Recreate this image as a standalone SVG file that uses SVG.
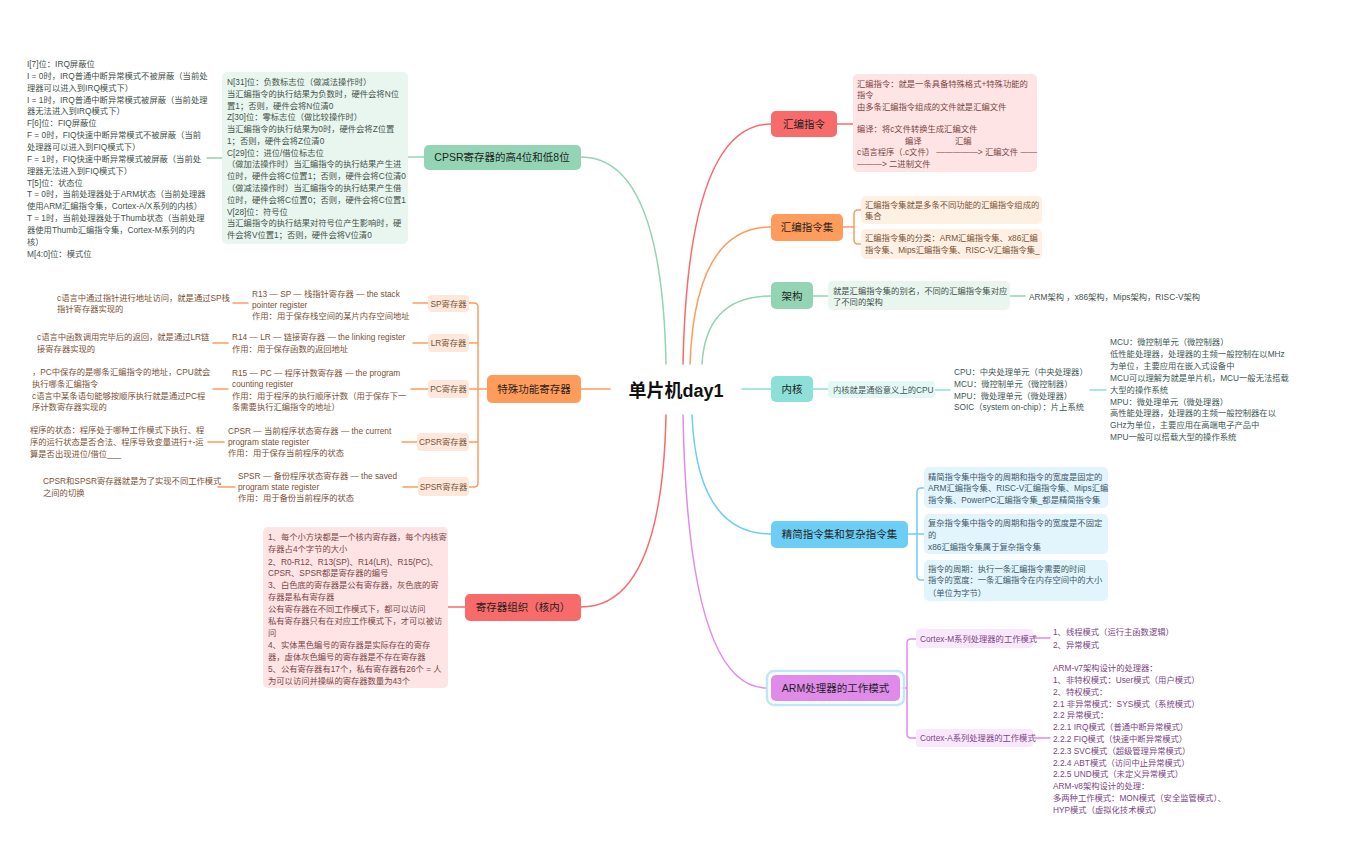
<svg xmlns="http://www.w3.org/2000/svg" width="1366" height="859" viewBox="0 0 1366 859">
<style>
text{font-family:"Liberation Sans","Noto Sans CJK SC",sans-serif;}
.d{font-size:8.3px;}
.n{font-size:10.5px;fill:#1f1f1f;text-anchor:middle;}
.s{font-size:8.3px;text-anchor:middle;}
.c{fill:none;stroke-width:1.5;stroke-linecap:round;}
.red{stroke:#f76b6b}.org{stroke:#ff9c5c}.grn{stroke:#93d4b4}.tea{stroke:#8de0d8}.blu{stroke:#6ccdf5}.pur{stroke:#e08bea}
.tr{fill:#7b4646}.to{fill:#7a5236}.tg{fill:#44524b}.tt{fill:#3e5856}.tb{fill:#3d5a6a}.tp{fill:#7a4585}
</style>
<rect width="1366" height="859" fill="#ffffff"/>

<g id="connectors">
<path class="c grn" d="M666,364 Q662,157 581,157"/>
<path class="c org" d="M610,389 L581,389"/>
<path class="c red" d="M666,415 Q662,607 581,607"/>
<path class="c red" d="M683,364 Q688,124 771,124"/>
<path class="c org" d="M690,364 Q695,227 771,227"/>
<path class="c grn" d="M702,364 Q706,296 771,296"/>
<path class="c tea" d="M742,389 L771,389"/>
<path class="c blu" d="M692,415 Q697,534 771,534"/>
<path class="c pur" d="M683,415 Q688,688 767,688"/>

<path class="c red" d="M837,124 L853,124"/>
<path class="c org" d="M843,227 L854,227 M861,210 L858,210 Q854,210 854,214 L854,240 Q854,244 858,244 L861,244"/>
<path class="c grn" d="M813,296 L828,296 M1010,296 L1025,296"/>
<path class="c tea" d="M813,389 L828,389 M935,390 L950,390 M1090,390 L1106,390"/>
<path class="c blu" d="M908,534 L924,534 M924,488 L921,488 Q917,488 917,492 L917,576 Q917,580 921,580 L924,580"/>
<path class="c pur" d="M903,688 L907,688 M916,639 L911,639 Q907,639 907,643 L907,734 Q907,738 911,738 L916,738 M1033,638 L1050,638 M1033,738 L1050,738"/>
<path class="c grn" d="M424,157 L408,157 M222,158 L207,158"/>
<path class="c org" d="M487,389 L469,389 M469,303 L474,303 Q478,303 478,307 L478,483 Q478,487 474,487 L469,487 M478,343 L469,343 M478,442 L469,442"/>
<path class="c org" d="M428,303 L413,303 M248,303 L233,303 M428,343 L413,343 M228,343 L213,343 M428,389 L411,389 M228,389 L213,389 M417,442 L402,442 M224,442 L208,442 M418,487 L403,487 M235,487 L218,487"/>
<path class="c red" d="M465,607 L448,607"/>
</g>

<g id="center">
<text x="676" y="397" text-anchor="middle" font-size="18" font-weight="bold" fill="#111">单片机day1</text>
</g>

<g id="node-cpsr">
<rect x="424" y="145" width="157" height="25" rx="5" fill="#93d4b4"/>
<text class="n" x="502" y="161">CPSR寄存器的高4位和低8位</text>
<rect x="222" y="72" width="186" height="172" rx="5" fill="#e9f6ef"/>
<text class="d tg">
<tspan x="227" y="85">N[31]位：负数标志位（做减法操作时）</tspan>
<tspan x="227" y="96.8">当汇编指令的执行结果为负数时，硬件会将N位</tspan>
<tspan x="227" y="108.5">置1；否则，硬件会将N位清0</tspan>
<tspan x="227" y="120.3">Z[30]位：零标志位（做比较操作时）</tspan>
<tspan x="227" y="132.1">当汇编指令的执行结果为0时，硬件会将Z位置</tspan>
<tspan x="227" y="143.9">1；否则，硬件会将Z位清0</tspan>
<tspan x="227" y="155.6">C[29]位：进位/借位标志位</tspan>
<tspan x="227" y="167.4">（做加法操作时）当汇编指令的执行结果产生进</tspan>
<tspan x="227" y="179.2">位时，硬件会将C位置1；否则，硬件会将C位清0</tspan>
<tspan x="227" y="190.9">（做减法操作时）当汇编指令的执行结果产生借</tspan>
<tspan x="227" y="202.7">位时，硬件会将C位置0；否则，硬件会将C位置1</tspan>
<tspan x="227" y="214.5">V[28]位：符号位</tspan>
<tspan x="227" y="226.2">当汇编指令的执行结果对符号位产生影响时，硬</tspan>
<tspan x="227" y="238">件会将V位置1；否则，硬件会将V位清0</tspan>
</text>
<text class="d tg">
<tspan x="27" y="67">I[7]位：IRQ屏蔽位</tspan>
<tspan x="27" y="78.9">I = 0时，IRQ普通中断异常模式不被屏蔽（当前处</tspan>
<tspan x="27" y="90.7">理器可以进入到IRQ模式下）</tspan>
<tspan x="27" y="102.6">I = 1时，IRQ普通中断异常模式被屏蔽（当前处理</tspan>
<tspan x="27" y="114.4">器无法进入到IRQ模式下）</tspan>
<tspan x="27" y="126.3">F[6]位：FIQ屏蔽位</tspan>
<tspan x="27" y="138.1">F = 0时，FIQ快速中断异常模式不被屏蔽（当前</tspan>
<tspan x="27" y="150">处理器可以进入到FIQ模式下）</tspan>
<tspan x="27" y="161.8">F = 1时，FIQ快速中断异常模式被屏蔽（当前处</tspan>
<tspan x="27" y="173.7">理器无法进入到FIQ模式下）</tspan>
<tspan x="27" y="185.5">T[5]位：状态位</tspan>
<tspan x="27" y="197.4">T = 0时，当前处理器处于ARM状态（当前处理器</tspan>
<tspan x="27" y="209.2">使用ARM汇编指令集，Cortex-A/X系列的内核）</tspan>
<tspan x="27" y="221.1">T = 1时，当前处理器处于Thumb状态（当前处理</tspan>
<tspan x="27" y="232.9">器使用Thumb汇编指令集，Cortex-M系列的内</tspan>
<tspan x="27" y="244.8">核）</tspan>
<tspan x="27" y="256.6">M[4:0]位：模式位</tspan>
</text>
</g>

<g id="node-special">
<rect x="487" y="375" width="94" height="28" rx="5" fill="#ff9c5c"/>
<text class="n" x="534" y="393">特殊功能寄存器</text>
</g>

<g id="node-sp">
<rect x="428" y="295" width="41" height="17" rx="4" fill="#fde8db"/>
<text class="s to" x="448.5" y="306.5">SP寄存器</text>
<text class="d to"><tspan x="252" y="297">R13 — SP — 栈指针寄存器 — the stack</tspan><tspan x="252" y="308">pointer register</tspan><tspan x="252" y="319">作用：用于保存栈空间的某片内存空间地址</tspan></text>
<text class="d to"><tspan x="57" y="301">c语言中通过指针进行地址访问，就是通过SP栈</tspan><tspan x="57" y="312">指针寄存器实现的</tspan></text>
</g>

<g id="node-lr">
<rect x="428" y="334" width="41" height="18" rx="4" fill="#fde8db"/>
<text class="s to" x="448.5" y="346">LR寄存器</text>
<text class="d to"><tspan x="232" y="340">R14 — LR — 链接寄存器 — the linking register</tspan><tspan x="232" y="352">作用：用于保存函数的返回地址</tspan></text>
<text class="d to"><tspan x="37" y="340">c语言中函数调用完毕后的返回，就是通过LR链</tspan><tspan x="37" y="352">接寄存器实现的</tspan></text>
</g>

<g id="node-pc">
<rect x="428" y="380" width="41" height="18" rx="4" fill="#fde8db"/>
<text class="s to" x="448.5" y="392">PC寄存器</text>
<text class="d to"><tspan x="232" y="376">R15 — PC — 程序计数寄存器 — the program</tspan><tspan x="232" y="387">counting register</tspan><tspan x="232" y="399">作用：用于程序的执行顺序计数（用于保存下一</tspan><tspan x="232" y="410">条需要执行汇编指令的地址）</tspan></text>
<text class="d to"><tspan x="32" y="375">，PC中保存的是哪条汇编指令的地址，CPU就会</tspan><tspan x="32" y="387">执行哪条汇编指令</tspan><tspan x="32" y="399">c语言中某条语句能够按顺序执行就是通过PC程</tspan><tspan x="32" y="410">序计数寄存器实现的</tspan></text>
</g>

<g id="node-cpsr-reg">
<rect x="417" y="433" width="52" height="18" rx="4" fill="#fde8db"/>
<text class="s to" x="443" y="445">CPSR寄存器</text>
<text class="d to"><tspan x="228" y="434">CPSR — 当前程序状态寄存器 — the current</tspan><tspan x="228" y="445">program state register</tspan><tspan x="228" y="456">作用：用于保存当前程序的状态</tspan></text>
<text class="d to"><tspan x="30" y="433">程序的状态：程序处于哪种工作模式下执行、程</tspan><tspan x="30" y="445">序的运行状态是否合法、程序导致变量进行+-运</tspan><tspan x="30" y="457">算是否出现进位/借位___</tspan></text>
</g>

<g id="node-spsr">
<rect x="418" y="477" width="51" height="19" rx="4" fill="#fde8db"/>
<text class="s to" x="443.5" y="490">SPSR寄存器</text>
<text class="d to"><tspan x="238" y="479">SPSR — 备份程序状态寄存器 — the saved</tspan><tspan x="238" y="490">program state register</tspan><tspan x="238" y="501">作用：用于备份当前程序的状态</tspan></text>
<text class="d to"><tspan x="43" y="484">CPSR和SPSR寄存器就是为了实现不同工作模式</tspan><tspan x="43" y="496">之间的切换</tspan></text>
</g>

<g id="node-regorg">
<rect x="465" y="594" width="116" height="27" rx="5" fill="#f76b6b"/>
<text class="n" x="523" y="611">寄存器组织（核内）</text>
<rect x="263" y="527" width="185" height="161" rx="5" fill="#fee4e4"/>
<text class="d tr">
<tspan x="268" y="540">1、每个小方块都是一个核内寄存器，每个内核寄</tspan>
<tspan x="268" y="552">存器占4个字节的大小</tspan>
<tspan x="268" y="564.5">2、R0-R12、R13(SP)、R14(LR)、R15(PC)、</tspan>
<tspan x="268" y="576">CPSR、SPSR都是寄存器的编号</tspan>
<tspan x="268" y="588">3、白色底的寄存器是公有寄存器，灰色底的寄</tspan>
<tspan x="268" y="600">存器是私有寄存器</tspan>
<tspan x="268" y="612">公有寄存器在不同工作模式下，都可以访问</tspan>
<tspan x="268" y="623.5">私有寄存器只有在对应工作模式下，才可以被访</tspan>
<tspan x="268" y="636">问</tspan>
<tspan x="268" y="647.5">4、实体黑色编号的寄存器是实际存在的寄存</tspan>
<tspan x="268" y="660">器，虚体灰色编号的寄存器是不存在寄存器</tspan>
<tspan x="268" y="672">5、公有寄存器有17个，私有寄存器有26个 = 人</tspan>
<tspan x="268" y="684">为可以访问并操纵的寄存器数量为43个</tspan>
</text>
</g>

<g id="node-asm">
<rect x="771" y="111" width="66" height="26" rx="5" fill="#f76b6b"/>
<text class="n" x="804" y="128">汇编指令</text>
<rect x="853" y="74" width="184" height="98" rx="5" fill="#fee4e4"/>
<text class="d tr">
<tspan x="857" y="87">汇编指令：就是一条具备特殊格式+特殊功能的</tspan>
<tspan x="857" y="98">指令</tspan>
<tspan x="857" y="110">由多条汇编指令组成的文件就是汇编文件</tspan>
<tspan x="857" y="132">编译：将c文件转换生成汇编文件</tspan>
<tspan x="905" y="144">编译</tspan>
<tspan x="955" y="144">汇编</tspan>
<tspan x="857" y="155">c语言程序（.c文件） —————&gt; 汇编文件 ——</tspan>
<tspan x="857" y="167">———&gt; 二进制文件</tspan>
</text>
</g>

<g id="node-asmset">
<rect x="771" y="214" width="72" height="27" rx="5" fill="#ff9c5c"/>
<text class="n" x="807" y="231">汇编指令集</text>
<rect x="861" y="196" width="181" height="28" rx="5" fill="#fef0e3"/>
<text class="d to"><tspan x="865" y="208">汇编指令集就是多条不同功能的汇编指令组成的</tspan><tspan x="865" y="219">集合</tspan></text>
<rect x="861" y="229" width="181" height="30" rx="5" fill="#fef0e3"/>
<text class="d to"><tspan x="865" y="241">汇编指令集的分类：ARM汇编指令集、x86汇编</tspan><tspan x="865" y="253">指令集、Mips汇编指令集、RISC-V汇编指令集_</tspan></text>
</g>

<g id="node-arch">
<rect x="771" y="282" width="42" height="27" rx="5" fill="#93d4b4"/>
<text class="n" x="792" y="299.5">架构</text>
<rect x="828" y="281" width="182" height="29" rx="5" fill="#e9f6ef"/>
<text class="d tg"><tspan x="833" y="294">就是汇编指令集的别名，不同的汇编指令集对应</tspan><tspan x="833" y="305">了不同的架构</tspan></text>
<text class="d tg" x="1029" y="300">ARM架构 ，x86架构，Mips架构，RISC-V架构</text>
</g>

<g id="node-core">
<rect x="771" y="376" width="42" height="26" rx="5" fill="#8de0d8"/>
<text class="n" x="792" y="393">内核</text>
<rect x="828" y="381" width="107" height="17" rx="4" fill="#e5f7f5"/>
<text class="d tt" x="833" y="393">内核就是通俗意义上的CPU</text>
<text class="d tt"><tspan x="954" y="375">CPU：中央处理单元（中央处理器）</tspan><tspan x="954" y="387">MCU：微控制单元（微控制器）</tspan><tspan x="954" y="399">MPU：微处理单元（微处理器）</tspan><tspan x="954" y="410">SOIC（system on-chip）：片上系统</tspan></text>
<text class="d tt">
<tspan x="1110" y="345">MCU：微控制单元（微控制器）</tspan>
<tspan x="1110" y="357">低性能处理器，处理器的主频一般控制在以MHz</tspan>
<tspan x="1110" y="368.5">为单位，主要应用在嵌入式设备中</tspan>
<tspan x="1110" y="380.5">MCU可以理解为就是单片机，MCU一般无法搭载</tspan>
<tspan x="1110" y="393">大型的操作系统</tspan>
<tspan x="1110" y="404.5">MPU：微处理单元（微处理器）</tspan>
<tspan x="1110" y="416">高性能处理器，处理器的主频一般控制器在以</tspan>
<tspan x="1110" y="428">GHz为单位，主要应用在高端电子产品中</tspan>
<tspan x="1110" y="440">MPU一般可以搭载大型的操作系统</tspan>
</text>
</g>

<g id="node-risc">
<rect x="771" y="521" width="137" height="27" rx="5" fill="#6ccdf5"/>
<text class="n" x="839.5" y="538">精简指令集和复杂指令集</text>
<rect x="924" y="467" width="184" height="41" rx="5" fill="#e2f4fc"/>
<text class="d tb"><tspan x="928" y="480">精简指令集中指令的周期和指令的宽度是固定的</tspan><tspan x="928" y="491">ARM汇编指令集、RISC-V汇编指令集、Mips汇编</tspan><tspan x="928" y="503">指令集、PowerPC汇编指令集_都是精简指令集</tspan></text>
<rect x="924" y="514" width="184" height="40" rx="5" fill="#e2f4fc"/>
<text class="d tb"><tspan x="928" y="526">复杂指令集中指令的周期和指令的宽度是不固定</tspan><tspan x="928" y="538">的</tspan><tspan x="928" y="550">x86汇编指令集属于复杂指令集</tspan></text>
<rect x="924" y="560" width="184" height="41" rx="5" fill="#e2f4fc"/>
<text class="d tb"><tspan x="928" y="572">指令的周期：执行一条汇编指令需要的时间</tspan><tspan x="928" y="583">指令的宽度：一条汇编指令在内存空间中的大小</tspan><tspan x="928" y="596">（单位为字节）</tspan></text>
</g>

<g id="node-arm">
<rect x="767" y="671" width="137" height="34" rx="7" fill="none" stroke="#bfe6fa" stroke-width="2.5"/>
<rect x="771" y="675" width="129" height="26" rx="5" fill="#e08bea"/>
<text class="n" x="835.5" y="692">ARM处理器的工作模式</text>
<rect x="916" y="629" width="117" height="19" rx="4" fill="#f9e8fb"/>
<text class="d tp" x="920" y="642">Cortex-M系列处理器的工作模式</text>
<text class="d tp"><tspan x="1053" y="635">1、线程模式（运行主函数逻辑）</tspan><tspan x="1053" y="648">2、异常模式</tspan></text>
<rect x="916" y="729" width="117" height="18" rx="4" fill="#f9e8fb"/>
<text class="d tp" x="920" y="741">Cortex-A系列处理器的工作模式</text>
<text class="d tp">
<tspan x="1053" y="671">ARM-v7架构设计的处理器：</tspan>
<tspan x="1053" y="682.5">1、非特权模式：User模式（用户模式）</tspan>
<tspan x="1053" y="694.5">2、特权模式：</tspan>
<tspan x="1053" y="706.5">2.1 非异常模式：SYS模式（系统模式）</tspan>
<tspan x="1053" y="718">2.2 异常模式：</tspan>
<tspan x="1053" y="730">2.2.1 IRQ模式（普通中断异常模式）</tspan>
<tspan x="1053" y="742">2.2.2 FIQ模式（快速中断异常模式）</tspan>
<tspan x="1053" y="753.5">2.2.3 SVC模式（超级管理异常模式）</tspan>
<tspan x="1053" y="765.5">2.2.4 ABT模式（访问中止异常模式）</tspan>
<tspan x="1053" y="777">2.2.5 UND模式（未定义异常模式）</tspan>
<tspan x="1053" y="789">ARM-v8架构设计的处理：</tspan>
<tspan x="1053" y="801">多两种工作模式：MON模式（安全监管模式）、</tspan>
<tspan x="1053" y="813">HYP模式（虚拟化技术模式）</tspan>
</text>
</g>
</svg>
